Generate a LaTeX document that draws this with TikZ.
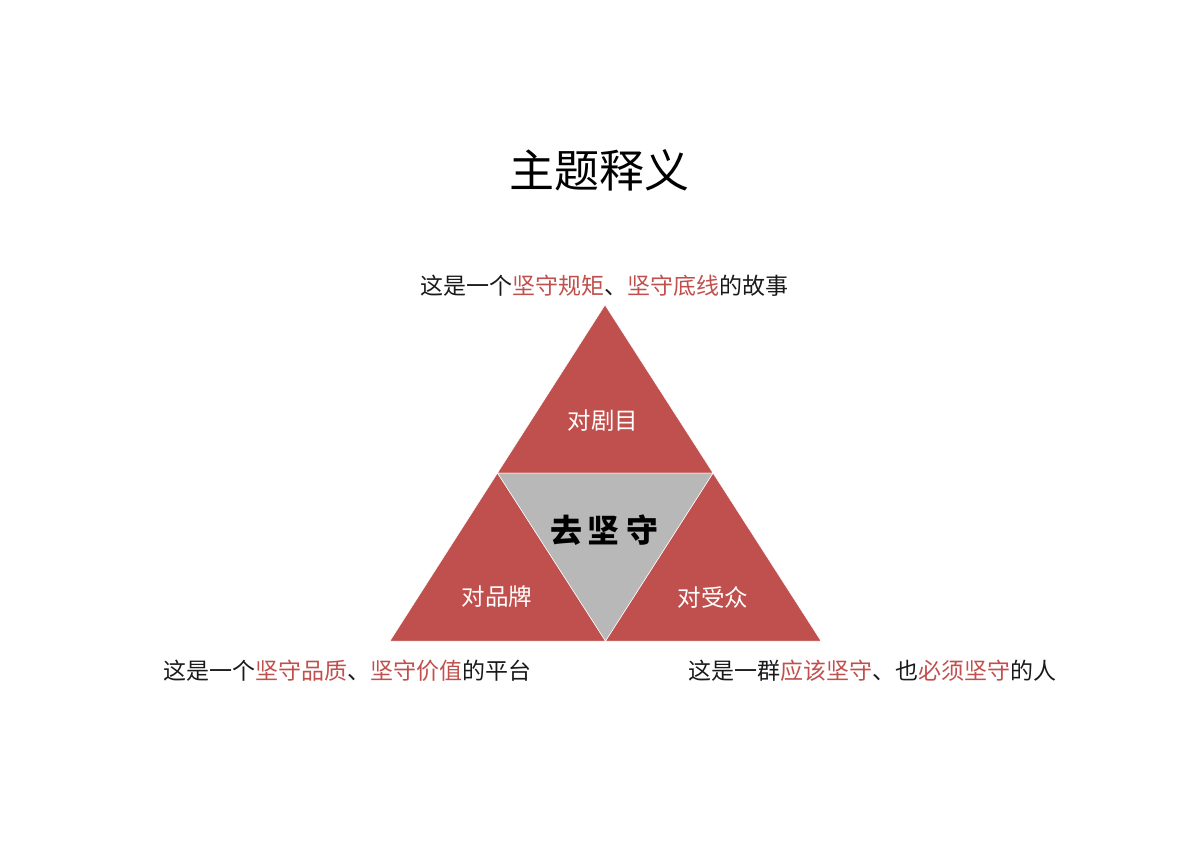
\documentclass[tikz,border=0pt]{standalone}
\usepackage{fontspec}
\newfontfamily\cjk{Noto Sans CJK SC}
\definecolor{tred}{HTML}{C0504D}
\definecolor{tgray}{HTML}{B8B8B8}
\definecolor{ttext}{HTML}{1A1A1A}
\begin{document}
\begin{tikzpicture}[x=1pt,y=-1pt,
  redtri/.style={fill=tred,draw=white,line width=0.5pt,line join=miter},
  graytri/.style={fill=tgray,draw=white,line width=0.5pt},
  caption/.style={font=\cjk\fontsize{23}{27}\selectfont,text=ttext,inner sep=0pt},
  inlabel/.style={font=\cjk\fontsize{23.5}{27}\selectfont,text=white,inner sep=0pt}]
\useasboundingbox (0,0) rectangle (1200,849);
% vertices
\coordinate (A) at (605,305);
\coordinate (L) at (390,641);
\coordinate (R) at (821,641);
\coordinate (ML) at (497.5,473);
\coordinate (MR) at (713,473);
\coordinate (MB) at (605.5,641);
% triangles
\fill[redtri] (A) -- (MR) -- (ML) -- cycle;
\fill[redtri] (ML) -- (MB) -- (L) -- cycle;
\fill[redtri] (MR) -- (R) -- (MB) -- cycle;
\fill[graytri] (ML) -- (MR) -- (MB) -- cycle;
% title
\node[font=\cjk\fontsize{45}{52}\selectfont,text=black,inner sep=0pt] (title) at (599,170) {主题释义};
% labels in triangles
\node[inlabel] (top) at (603,421) {对剧目};
\node[inlabel] (left) at (497,597) {对品牌};
\node[inlabel] (right) at (713,597) {对受众};
\node[font=\cjk\bfseries\fontsize{32}{36}\selectfont,text=black,inner sep=0pt] (center) at (604,530) {去\hspace{6pt}坚\hspace{6pt}守};
% captions
\node[caption] (ctop) at (604,286) {这是一个\textcolor{tred}{坚守规矩}、\textcolor{tred}{坚守底线}的故事};
\node[caption] (cleft) at (347,671) {这是一个\textcolor{tred}{坚守品质}、\textcolor{tred}{坚守价值}的平台};
\node[caption] (cright) at (872,671) {这是一群\textcolor{tred}{应该坚守}、也\textcolor{tred}{必须坚守}的人};
\end{tikzpicture}
\end{document}
